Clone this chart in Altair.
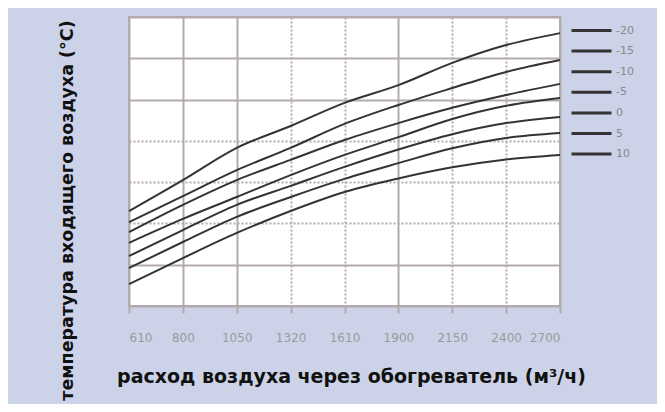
import altair as alt
import pandas as pd

# x positions are equally spaced categories of air flow
x_labels = ["610", "800", "1050", "1320", "1610", "1900", "2150", "2400", "2700"]
series = ["-20", "-15", "-10", "-5", "0", "5", "10"]

v_m20 = [23.0, 30.5, 38.3, 43.6, 49.2, 53.5, 58.9, 63.2, 66.1]
v_m15 = [20.3, 26.6, 32.9, 38.3, 44.1, 48.7, 52.8, 56.7, 59.6]
v_m10 = [17.9, 24.5, 30.5, 35.4, 40.2, 44.3, 48.0, 51.1, 53.8]
v_m5 = [15.3, 21.1, 26.4, 31.7, 36.6, 40.9, 45.3, 48.5, 50.4]
v_0 = [12.1, 18.4, 24.5, 29.1, 33.7, 37.9, 41.6, 44.3, 45.8]
v_p5 = [9.2, 15.5, 21.6, 26.4, 30.8, 34.6, 38.2, 40.7, 41.9]
v_p10 = [5.3, 11.6, 17.7, 23.0, 27.6, 30.9, 33.6, 35.5, 36.6]

all_vals = [v_m20, v_m15, v_m10, v_m5, v_0, v_p5, v_p10]
rows = []
for s, vals in zip(series, all_vals):
    for i, v in enumerate(vals):
        rows.append({"x": i, "t": v, "s": s})
df = pd.DataFrame(rows)

label_arr = "[" + ",".join("'%s'" % l for l in x_labels) + "]"
grid_c = "#b3abab"

chart = alt.Chart(df).mark_line(strokeWidth=2, interpolate="monotone").encode(
    x=alt.X("x:Q",
            scale=alt.Scale(domain=[0, 8], nice=False, zero=False),
            axis=alt.Axis(values=list(range(9)), labelExpr=label_arr + "[datum.value]",
                          title="расход воздуха через обогреватель (м³/ч)",
                          titleX=222, titleY=70, titleBaseline="middle",
                          titleFont="DejaVu Sans", titleFontSize=19, titleFontWeight="bold",
                          titleColor="#111",
                          labelFont="DejaVu Sans", labelFontSize=12, labelColor="#9a9a9a",
                          labelPadding=19, tickSize=7, tickWidth=2, tickColor=grid_c,
                          domain=False, grid=True, gridColor=grid_c, gridWidth=2,
                          gridDash={"condition": {"test": "indexof([3,4,6,7], datum.value) >= 0", "value": [2, 2]}, "value": []})),
    y=alt.Y("t:Q",
            scale=alt.Scale(domain=[0, 70], nice=False),
            axis=alt.Axis(values=[0, 10, 20, 30, 40, 50, 60, 70], labels=False, ticks=False,
                          domain=False, grid=True, gridColor=grid_c, gridWidth=2,
                          gridDash={"condition": {"test": "indexof([20,30,40], datum.value) >= 0", "value": [2, 2]}, "value": []},
                          title="температура входящего воздуха (°C)",
                          titleAngle=270, titleX=-62, titleY=193, titleBaseline="middle",
                          titleAlign="center",
                          titleFont="DejaVu Sans", titleFontSize=17.5, titleFontWeight="bold",
                          titleColor="#111")),
    color=alt.Color("s:N",
                    scale=alt.Scale(domain=series, range=["#333333"] * 7),
                    legend=alt.Legend(title=None, orient="none", legendX=441, legendY=4,
                                      symbolType="stroke", symbolSize=1600, symbolStrokeWidth=3,
                                      clipHeight=19,
                                      labelFont="DejaVu Sans", labelFontSize=11, labelColor="#888888",
                                      labelOffset=3, rowPadding=1.6, padding=0)),
).properties(
    width=431, height=289,
    autosize="none",
    padding={"left": 121, "top": 9, "right": 97, "bottom": 98},
).configure(background="#ccd3e8").configure_view(fill="white", stroke="#b0a8a8", strokeWidth=2)

chart.save("out.html", embed_options={"renderer": "svg", "actions": False})
